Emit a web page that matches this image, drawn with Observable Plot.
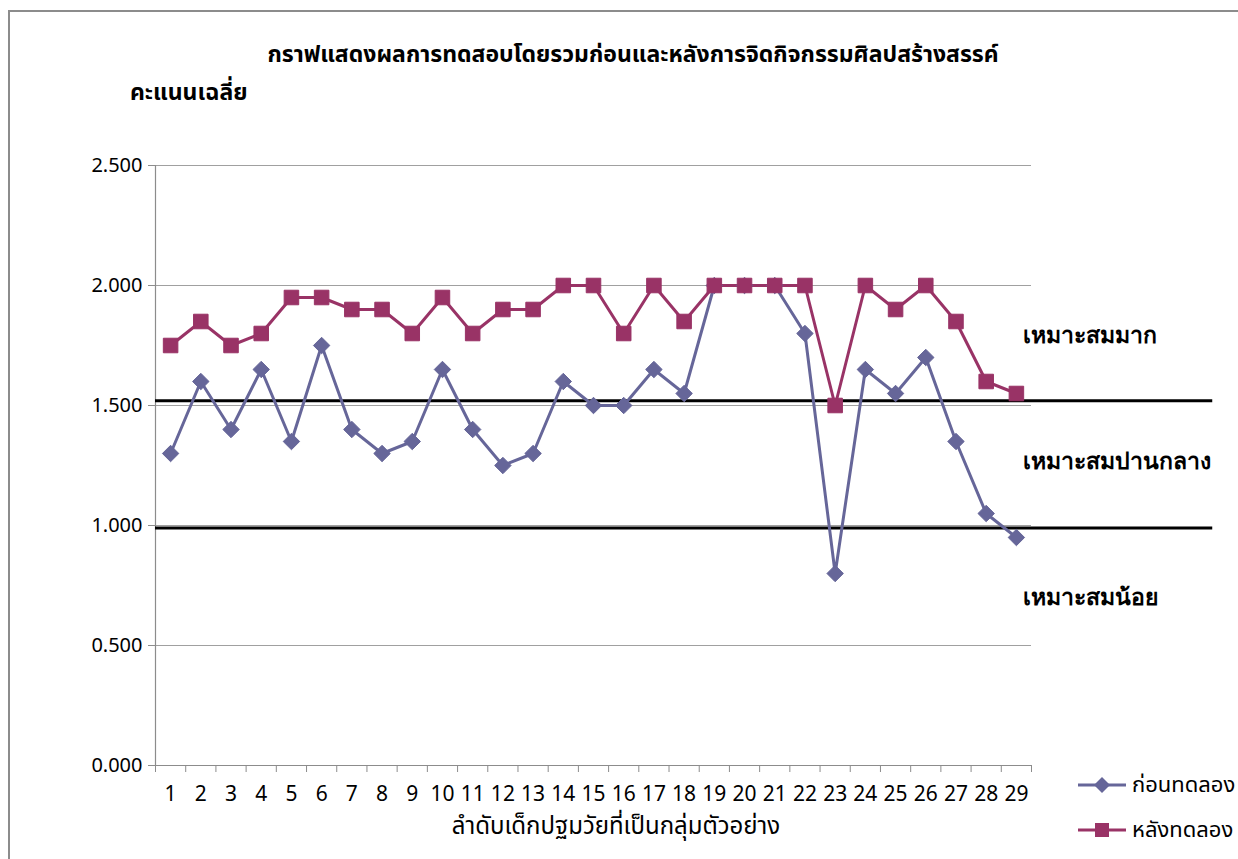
<!DOCTYPE html>
<html>
<head>
<meta charset="utf-8">
<script src="https://cdn.jsdelivr.net/npm/d3@7"></script>
<script src="https://cdn.jsdelivr.net/npm/@observablehq/plot@0.6"></script>
<style>
  html, body { margin: 0; padding: 0; background: #fff; }
  body { width: 1238px; height: 859px; position: relative; overflow: hidden;
         font-family: "Noto Sans", "Noto Sans Thai", sans-serif; }
  #frame { position: absolute; left: 8px; top: 10px; width: 1240px; height: 860px;
           border-left: 2px solid #8c8c8c; border-top: 2px solid #8c8c8c; }
  #chart { position: absolute; left: 0; top: 0; }
  .title { position: absolute; left: 0; width: 1266px; top: 37px; text-align: center;
           font-weight: bold; font-size: 23px; color: #000; }
  .ylabel { position: absolute; left: 130px; top: 75px; font-weight: bold; font-size: 23px; }
  .xlabel { position: absolute; left: 0; width: 1232px; top: 808px; text-align: center; font-size: 24px; }
  .legend { position: absolute; left: 1078px; top: 762px; font-size: 22px; }
  .legend .row { display: flex; align-items: center; height: 45px; }
  .legend svg { margin-right: 6px; }
</style>
</head>
<body>
<div id="frame"></div>
<div id="chart"></div>
<div class="title">กราฟแสดงผลการทดสอบโดยรวมก่อนและหลังการจิดกิจกรรมศิลปสร้างสรรค์</div>
<div class="ylabel">คะแนนเฉลี่ย</div>
<div class="xlabel">ลำดับเด็กปฐมวัยที่เป็นกลุ่มตัวอย่าง</div>
<div class="legend" id="legend"></div>
<script>
// ---- data ----
const students = d3.range(1, 30);
const beforeScores = [1.30,1.60,1.40,1.65,1.35,1.75,1.40,1.30,1.35,1.65,1.40,1.25,1.30,1.60,1.50,1.50,1.65,1.55,2.00,2.00,2.00,1.80,0.80,1.65,1.55,1.70,1.35,1.05,0.95];
const afterScores  = [1.75,1.85,1.75,1.80,1.95,1.95,1.90,1.90,1.80,1.95,1.80,1.90,1.90,2.00,2.00,1.80,2.00,1.85,2.00,2.00,2.00,2.00,1.50,2.00,1.90,2.00,1.85,1.60,1.55];
const seriesNames = ["ก่อนทดลอง", "หลังทดลอง"];
const yTicks = [0, 0.5, 1.0, 1.5, 2.0, 2.5];
const thresholds = [1.52, 0.99];
const zoneLabels = ["เหมาะสมมาก", "เหมาะสมปานกลาง", "เหมาะสมน้อย"];
const zoneLabelY = [1.79, 1.265, 0.70];

const colBefore = "#666699";
const colAfter = "#993366";

const before = students.map((s, i) => ({student: s, value: beforeScores[i]}));
const after = students.map((s, i) => ({student: s, value: afterScores[i]}));
const edges = d3.range(0.5, 30, 1);
const zones = zoneLabels.map((t, i) => ({text: t, y: zoneLabelY[i]}));

const plot = Plot.plot({
  width: 1238,
  height: 859,
  marginLeft: 155,
  marginRight: 207,
  marginTop: 165,
  marginBottom: 94,
  style: {fontFamily: "'Noto Sans', sans-serif", fontSize: "20px", color: "#000", background: "transparent"},
  x: {type: "linear", domain: [0.5, 29.5], axis: null, label: null},
  y: {domain: [0, 2.5], axis: null, label: null},
  marks: [
    Plot.gridY(yTicks, {stroke: "#a0a0a0", strokeOpacity: 1, strokeWidth: 1}),
    Plot.ruleX([0.5], {y1: 0, y2: 2.5, stroke: "#8c8c8c", strokeWidth: 1.2}),
    Plot.ruleY([0], {x1: 0.5, x2: 29.5, stroke: "#8c8c8c", strokeWidth: 1.2}),
    Plot.axisY(yTicks, {tickFormat: d3.format(".3f"), tickSize: 7, tickPadding: 6, stroke: "#8c8c8c", fontSize: 20, label: null}),
    Plot.axisX(edges, {tickFormat: () => "", tickSize: 7, stroke: "#8c8c8c", label: null}),
    Plot.axisX(students, {tickSize: 0, tickPadding: 21, fontSize: 21, label: null}),
    Plot.ruleY(thresholds, {x1: 0.5, x2: 35.5, stroke: "#000", strokeWidth: 3}),
    Plot.line(before, {x: "student", y: "value", stroke: colBefore, strokeWidth: 3}),
    Plot.line(after, {x: "student", y: "value", stroke: colAfter, strokeWidth: 3}),
    Plot.dot(before, {x: "student", y: "value", symbol: "diamond2", fill: colBefore, stroke: colBefore, strokeWidth: 1, r: 7.4}),
    Plot.dot(after, {x: "student", y: "value", symbol: "square", fill: colAfter, stroke: colAfter, strokeWidth: 1, r: 8.2}),
    Plot.text(zones, {x: 29.5, dx: -9, y: "y", text: "text", textAnchor: "start", fontSize: 23, fontWeight: "bold", fill: "#000"})
  ]
});
document.getElementById("chart").appendChild(plot);

// legend
const legend = document.getElementById("legend");
[[seriesNames[0], colBefore, "diamond"], [seriesNames[1], colAfter, "square"]].forEach(([name, col, sym]) => {
  const row = document.createElement("div");
  row.className = "row";
  const marker = sym === "diamond"
    ? `<path d="M24,3 L32,11 L24,19 L16,11 Z" fill="${col}"/>`
    : `<rect x="17" y="4" width="14" height="14" fill="${col}"/>`;
  row.innerHTML = `<svg width="48" height="22"><line x1="0" x2="48" y1="11" y2="11" stroke="${col}" stroke-width="3"/>${marker}</svg><span>${name}</span>`;
  legend.appendChild(row);
});
</script>
</body>
</html>
